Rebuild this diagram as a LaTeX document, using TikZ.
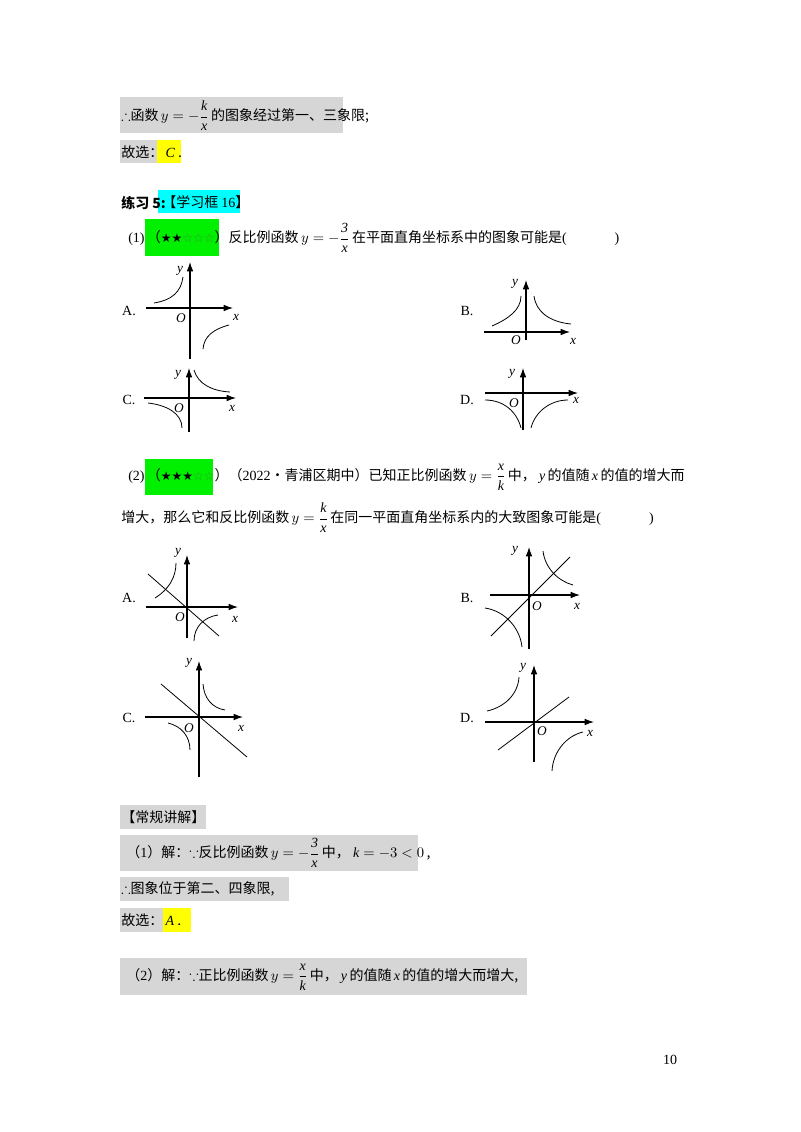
\documentclass[tikz,border=0pt]{standalone}
\usepackage{amsmath,amssymb}
\usepackage{fontspec}
\setmainfont{Liberation Serif}
\newfontfamily\cjk{Noto Sans CJK SC}
\newfontfamily\djv{DejaVu Sans}
\usetikzlibrary{arrows.meta}
\definecolor{gbox}{RGB}{214,214,214}
\definecolor{hlg}{RGB}{0,240,0}
\definecolor{hlc}{RGB}{0,255,255}
\definecolor{hly}{RGB}{255,255,0}
\definecolor{sg}{RGB}{60,150,60}
\newcommand{\fr}[2]{\dfrac{\mathit{#1}}{\mathit{#2}}}
\begin{document}
\begin{tikzpicture}[x=0.75pt,y=-0.75pt,
  txt/.style={anchor=west,inner sep=0pt,font=\fontsize{10.5}{12}\selectfont\cjk},
  lab/.style={inner sep=0pt,font=\fontsize{10.5}{12}\selectfont},
  ax/.style={line width=0.8pt,-{Latex[length=7pt,width=5pt]}},
  cv/.style={line width=0.6pt}]
\useasboundingbox[fill=white] (0,0) rectangle (800,1132);
% boxes
\fill[gbox] (120,97) rectangle (343,133);
\fill[gbox] (120,140) rectangle (157,163);
\fill[hly] (157,140) rectangle (181,163);
\fill[hlc] (158,190) rectangle (240,213);
\fill[hlg] (145,219) rectangle (219,256);
\fill[hlg] (145,459) rectangle (213,495);
\fill[gbox] (120,805) rectangle (206,829);
\fill[gbox] (120,835) rectangle (418,871);
\fill[gbox] (120,877) rectangle (289,901);
\fill[gbox] (120,908) rectangle (163,932);
\fill[hly] (163,908) rectangle (191,932);
\fill[gbox] (120,958) rectangle (527,995);
% texts
\node[txt] (t1) at (121,116) {$\therefore$函数\,$y=-\fr{k}{x}$\,的图象经过第一、三象限;};
\node[txt] (t2) at (121,152) {故选：\,{\rmfamily\itshape C} .};
\node[txt,font=\fontsize{10.5}{12}\selectfont\cjk\bfseries] (t3) at (121,203) {练习 5:};
\node[txt] (t4) at (162,202) {【学习框 {\rmfamily 16}】};
\node[txt] (t5) at (128,238) {{\rmfamily (1)}\,（{\djv\fontsize{9}{10}\selectfont ★★\textcolor{sg}{☆☆☆}}）反比例函数\,$y=-\fr{3}{x}$\,在平面直角坐标系中的图象可能是{\rmfamily (\hspace{36pt})}};
\node[txt] (t6) at (128,477) {{\rmfamily (2)}\,（{\djv\fontsize{9}{10}\selectfont ★★★\textcolor{sg}{☆☆}}）（{\rmfamily 2022}•青浦区期中）已知正比例函数\,$y=\fr{x}{k}$\,中，\ $\mathit{y}$\,的值随\,$\mathit{x}$\,的值的增大而};
\node[txt] (t7) at (121,518) {增大，那么它和反比例函数\,$y=\fr{k}{x}$\,在同一平面直角坐标系内的大致图象可能是{\rmfamily (\hspace{36pt})}};
\node[txt] (t8) at (121,817) {【常规讲解】};
\node[txt] (t9) at (126,853) {（{\rmfamily 1}）解：$\because$反比例函数\,$y=-\fr{3}{x}$\,中，\ $\mathit{k}=-3<0$\,,};
\node[txt] (t10) at (121,889) {$\therefore$图象位于第二、四象限,};
\node[txt] (t11) at (121,920) {故选：\,{\rmfamily\itshape A} .};
\node[txt] (t12) at (126,977) {（{\rmfamily 2}）解：$\because$正比例函数\,$y=\fr{x}{k}$\,中，\ $\mathit{y}$\,的值随\,$\mathit{x}$\,的值的增大而增大,};
\node[lab] (pg) at (670,1060) {10};
% ---- part 1 graphs
\node[lab] (a1) at (129,311) {A.};
\draw[ax] (190,359) -- (190,262);
\draw[ax] (146,308) -- (233,308);
\node[lab,font=\itshape] (a1y) at (180,271) {y};
\node[lab,font=\itshape] (a1o) at (181,318) {O};
\node[lab,font=\itshape] (a1x) at (236,317) {x};
\draw[cv] (154,303) .. controls (172,300) and (181,292) .. (183,277);
\draw[cv] (203,349) .. controls (204,336) and (214,329) .. (229,325);
\node[lab] (b1) at (467,311) {B.};
\draw[ax] (526,340) -- (526,280);
\draw[ax] (484,332) -- (570,332);
\node[lab,font=\itshape] (b1y) at (515,284) {y};
\node[lab,font=\itshape] (b1o) at (516,340) {O};
\node[lab,font=\itshape] (b1x) at (573,341) {x};
\draw[cv] (492,326) .. controls (508,319) and (521,310) .. (521,296);
\draw[cv] (534,296) .. controls (536,312) and (550,322) .. (571,324);
\node[lab] (c1) at (129,400) {C.};
\draw[ax] (189,432) -- (189,368);
\draw[ax] (144,398) -- (236,398);
\node[lab,font=\itshape] (c1y) at (178,375) {y};
\node[lab,font=\itshape] (c1o) at (179,408) {O};
\node[lab,font=\itshape] (c1x) at (232,408) {x};
\draw[cv] (194,370) .. controls (198,384) and (212,391) .. (230,392);
\draw[cv] (148,403) .. controls (166,405) and (182,413) .. (182,428);
\node[lab] (d1) at (467,400) {D.};
\draw[ax] (523,430) -- (523,368);
\draw[ax] (485,393) -- (578,393);
\node[lab,font=\itshape] (d1y) at (512,374) {y};
\node[lab,font=\itshape] (d1o) at (514,403) {O};
\node[lab,font=\itshape] (d1x) at (576,400) {x};
\draw[cv] (485,400) .. controls (504,400) and (517,412) .. (521,428);
\draw[cv] (531,428) .. controls (535,412) and (550,400) .. (568,400);
% ---- part 2 graphs
\node[lab] (a2) at (129,598) {A.};
\draw[ax] (187,638) -- (187,555);
\draw[ax] (146,607) -- (238,607);
\node[lab,font=\itshape] (a2y) at (178,553) {y};
\node[lab,font=\itshape] (a2o) at (180,617) {O};
\node[lab,font=\itshape] (a2x) at (235,619) {x};
\draw[cv] (148,574) -- (219,636);
\draw[cv] (155,598) .. controls (168,590) and (176,578) .. (176,563);
\draw[cv] (194,641) .. controls (194,627) and (204,617) .. (218,615);
\node[lab] (b2) at (467,598) {B.};
\draw[ax] (529,649) -- (529,547);
\draw[ax] (490,595) -- (580,595);
\node[lab,font=\itshape] (b2y) at (515,551) {y};
\node[lab,font=\itshape] (b2o) at (537,606) {O};
\node[lab,font=\itshape] (b2x) at (577,606) {x};
\draw[cv] (491,636) -- (570,557);
\draw[cv] (543,551) .. controls (545,568) and (558,581) .. (573,585);
\draw[cv] (485,608) .. controls (505,611) and (520,628) .. (522,647);
\node[lab] (c2) at (129,718) {C.};
\draw[ax] (199,777) -- (199,661);
\draw[ax] (145,717) -- (243,717);
\node[lab,font=\itshape] (c2y) at (189,663) {y};
\node[lab,font=\itshape] (c2o) at (189,728) {O};
\node[lab,font=\itshape] (c2x) at (241,728) {x};
\draw[cv] (161,684) -- (247,757);
\draw[cv] (203,684) .. controls (204,698) and (212,708) .. (225,710);
\draw[cv] (168,723) .. controls (181,726) and (190,736) .. (190,750);
\node[lab] (d2) at (467,718) {D.};
\draw[ax] (534,762) -- (534,665);
\draw[ax] (485,722) -- (594,722);
\node[lab,font=\itshape] (d2y) at (523,668) {y};
\node[lab,font=\itshape] (d2o) at (542,731) {O};
\node[lab,font=\itshape] (d2x) at (590,733) {x};
\draw[cv] (498,750) -- (569,697);
\draw[cv] (487,711) .. controls (505,707) and (518,694) .. (519,677);
\draw[cv] (552,771) .. controls (553,752) and (566,736) .. (583,732);
\end{tikzpicture}
\end{document}
